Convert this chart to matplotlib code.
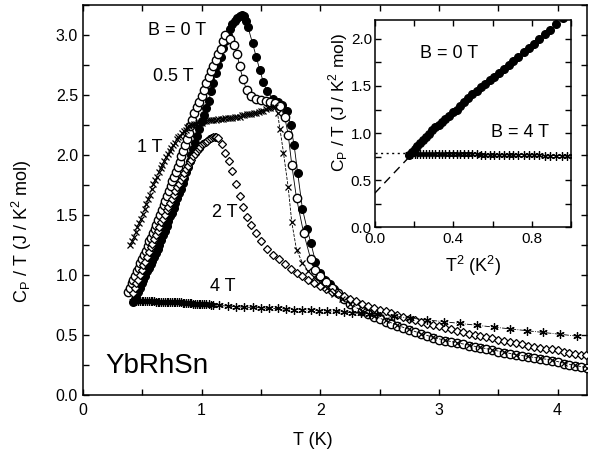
import numpy as np
import matplotlib
matplotlib.use("Agg")
import matplotlib.pyplot as plt
from matplotlib.ticker import MultipleLocator

plt.rcParams['font.family'] = ['Liberation Sans', 'DejaVu Sans']
plt.rcParams['mathtext.fontset'] = 'custom'
plt.rcParams['mathtext.rm'] = 'Liberation Sans'

# B = 0 T (filled circles)
t_0 = [0.420, 0.435, 0.450, 0.465, 0.480, 0.495, 0.510, 0.525, 0.540, 0.555, 0.570, 0.585,
       0.600, 0.615, 0.630, 0.645, 0.660, 0.675, 0.690, 0.705, 0.720, 0.735, 0.750, 0.765,
       0.780, 0.795, 0.810, 0.825, 0.840, 0.855, 0.870, 0.885, 0.900, 0.915, 0.930, 0.945,
       0.960, 0.980, 1.000, 1.020, 1.040, 1.060, 1.080, 1.100, 1.120, 1.140, 1.160, 1.180,
       1.200, 1.220, 1.240, 1.260, 1.280, 1.300, 1.320, 1.340, 1.360, 1.375,
       1.39, 1.43, 1.46, 1.49, 1.52, 1.55, 1.60, 1.64, 1.68, 1.72, 1.75, 1.78,
       1.81, 1.85, 1.89, 1.92, 1.96, 2.00, 2.04, 2.08, 2.12, 2.2, 2.3, 2.4, 2.5, 2.6, 2.7, 2.8,
       2.9, 3.0, 3.2, 3.4, 3.6, 3.8, 4.0, 4.2]
c_0 = [0.77, 0.80, 0.83, 0.86, 0.89, 0.93, 0.96, 0.99, 1.03, 1.06, 1.09, 1.12,
       1.15, 1.18, 1.22, 1.25, 1.29, 1.33, 1.37, 1.41, 1.45, 1.49, 1.52, 1.56,
       1.60, 1.64, 1.68, 1.72, 1.77, 1.81, 1.86, 1.90, 1.95, 2.00, 2.05, 2.10,
       2.16, 2.22, 2.28, 2.33, 2.39, 2.45, 2.53, 2.60, 2.68, 2.75, 2.82, 2.89,
       2.95, 3.00, 3.05, 3.09, 3.12, 3.14, 3.16, 3.17, 3.16, 3.12,
       3.07, 2.93, 2.82, 2.71, 2.61, 2.53, 2.47, 2.44, 2.42, 2.37, 2.25, 2.08,
       1.85, 1.55, 1.38, 1.27, 1.11, 1.02, 0.96, 0.92, 0.88, 0.81, 0.73, 0.68, 0.64, 0.60, 0.56, 0.52,
       0.49, 0.46, 0.42, 0.38, 0.34, 0.31, 0.27, 0.23]

# B = 0.5 T (open circles)
t_05 = [0.380, 0.395, 0.410, 0.425, 0.440, 0.455, 0.470, 0.485, 0.500, 0.515, 0.530, 0.545,
        0.560, 0.575, 0.590, 0.605, 0.620, 0.635, 0.650, 0.665, 0.680, 0.695, 0.710, 0.725,
        0.740, 0.755, 0.770, 0.785, 0.800, 0.815, 0.830, 0.845, 0.860, 0.875, 0.890, 0.905,
        0.920, 0.94, 0.96, 0.98, 1.00, 1.02, 1.04, 1.06, 1.08, 1.10, 1.12, 1.14, 1.16, 1.18, 1.20,
        1.24, 1.27, 1.30, 1.32, 1.35, 1.38, 1.42, 1.46, 1.50, 1.54, 1.58, 1.62, 1.66, 1.70, 1.73, 1.76,
        1.80, 1.86, 1.92, 1.96, 2.00, 2.05, 2.10, 2.15, 2.20, 2.25, 2.30, 2.35, 2.40, 2.45, 2.50,
        2.55, 2.60, 2.65, 2.70, 2.75, 2.80, 2.85, 2.90, 2.95, 3.00, 3.05, 3.10, 3.15, 3.20, 3.25,
        3.30, 3.35, 3.40, 3.45, 3.50, 3.55, 3.60, 3.65, 3.70, 3.75, 3.80, 3.85, 3.90, 3.95, 4.00,
        4.05, 4.10, 4.15, 4.20, 4.25]
c_05 = [0.86, 0.89, 0.93, 0.96, 0.99, 1.03, 1.06, 1.10, 1.13, 1.17, 1.20, 1.24,
        1.28, 1.31, 1.35, 1.38, 1.42, 1.46, 1.50, 1.54, 1.58, 1.62, 1.66, 1.70,
        1.74, 1.78, 1.82, 1.86, 1.90, 1.94, 1.99, 2.03, 2.08, 2.13, 2.18, 2.24,
        2.29, 2.35, 2.40, 2.44, 2.49, 2.54, 2.60, 2.65, 2.70, 2.74, 2.79, 2.84, 2.88, 2.95, 3.00,
        2.97, 2.92, 2.84, 2.74, 2.63, 2.54, 2.49, 2.47, 2.46, 2.45, 2.44, 2.43, 2.41, 2.32, 2.17, 1.92,
        1.64, 1.35, 1.13, 1.04, 0.99, 0.94, 0.89, 0.85, 0.80, 0.76, 0.72, 0.695, 0.67, 0.65, 0.63,
        0.61, 0.59, 0.575, 0.56, 0.54, 0.52, 0.505, 0.49, 0.475, 0.46, 0.45, 0.44, 0.43, 0.42, 0.41,
        0.40, 0.39, 0.38, 0.37, 0.36, 0.35, 0.34, 0.33, 0.32, 0.315, 0.31, 0.30, 0.29, 0.28, 0.27,
        0.26, 0.25, 0.24, 0.23, 0.22]

# B = 1 T (crosses)
t_1 = [0.400, 0.415, 0.430, 0.445, 0.460, 0.475, 0.490, 0.505, 0.520, 0.535, 0.550, 0.565,
       0.580, 0.595, 0.610, 0.625, 0.640, 0.655, 0.670, 0.685, 0.700, 0.715, 0.730, 0.745,
       0.760, 0.775, 0.790, 0.805, 0.820, 0.835, 0.850, 0.865, 0.880, 0.895, 0.910, 0.925,
       0.940, 0.955, 0.970, 0.985, 1.000,
       1.02, 1.04, 1.06, 1.08, 1.10, 1.12, 1.14, 1.16, 1.18, 1.20, 1.22, 1.24, 1.26, 1.28, 1.30,
       1.32, 1.34, 1.36, 1.38, 1.40, 1.42, 1.44, 1.46, 1.48, 1.50, 1.52, 1.54, 1.56, 1.58, 1.60,
       1.62, 1.64, 1.66, 1.69, 1.73, 1.76, 1.80, 1.85, 1.90, 1.95,
       2.00, 2.06, 2.12, 2.18, 2.25, 2.35, 2.45, 2.55, 2.65, 2.75, 2.85, 2.95, 3.05, 3.15, 3.25,
       3.35, 3.45, 3.55, 3.65, 3.75, 3.85, 3.95, 4.05, 4.15, 4.25]
c_1 = [1.25, 1.28, 1.32, 1.36, 1.40, 1.43, 1.47, 1.51, 1.55, 1.59, 1.63, 1.67,
       1.72, 1.76, 1.79, 1.82, 1.86, 1.89, 1.92, 1.95, 1.98, 2.01, 2.03, 2.06,
       2.08, 2.10, 2.13, 2.15, 2.16, 2.18, 2.20, 2.21, 2.23, 2.24, 2.25, 2.25,
       2.26, 2.26, 2.27, 2.27, 2.27,
       2.28, 2.28, 2.29, 2.29, 2.29, 2.29, 2.30, 2.30, 2.30, 2.31, 2.31, 2.31, 2.31, 2.32, 2.32,
       2.32, 2.33, 2.33, 2.34, 2.34, 2.34, 2.35, 2.35, 2.36, 2.37, 2.37, 2.38, 2.39, 2.39, 2.40,
       2.40, 2.35, 2.22, 2.02, 1.73, 1.44, 1.21, 1.10, 1.03, 0.98,
       0.94, 0.89, 0.84, 0.80, 0.76, 0.70, 0.66, 0.62, 0.58, 0.545, 0.51, 0.48, 0.455, 0.435, 0.415,
       0.395, 0.375, 0.355, 0.335, 0.32, 0.305, 0.29, 0.265, 0.245, 0.225]

# B = 2 T (open diamonds)
t_2 = [0.420, 0.435, 0.450, 0.465, 0.480, 0.495, 0.510, 0.525, 0.540, 0.555, 0.570, 0.585,
       0.600, 0.615, 0.630, 0.645, 0.660, 0.675, 0.690, 0.705, 0.720, 0.735, 0.750, 0.765,
       0.780, 0.795, 0.810, 0.825, 0.840, 0.855, 0.870, 0.885, 0.900, 0.915, 0.930, 0.945,
       0.960, 0.975, 0.990, 1.005, 1.020, 1.035, 1.050, 1.065, 1.080, 1.095, 1.110, 1.125,
       1.14, 1.17, 1.20, 1.23, 1.26, 1.29,
       1.32, 1.35, 1.38, 1.42, 1.46, 1.50, 1.55, 1.60, 1.65, 1.70, 1.75, 1.80, 1.85, 1.90, 1.95,
       2.00, 2.05, 2.10, 2.15, 2.20, 2.25, 2.30, 2.35, 2.40, 2.45, 2.50, 2.55, 2.60, 2.65, 2.70,
       2.75, 2.80, 2.85, 2.90, 2.95, 3.00, 3.05, 3.10, 3.15, 3.20, 3.25, 3.30, 3.35, 3.40, 3.45,
       3.50, 3.55, 3.60, 3.65, 3.70, 3.75, 3.80, 3.85, 3.90, 3.95, 4.00, 4.05, 4.10, 4.15, 4.20,
       4.24]
c_2 = [0.85, 0.89, 0.93, 0.96, 1.00, 1.04, 1.08, 1.11, 1.15, 1.19, 1.23, 1.26,
       1.30, 1.33, 1.37, 1.40, 1.44, 1.47, 1.50, 1.54, 1.57, 1.60, 1.63, 1.67,
       1.70, 1.73, 1.76, 1.79, 1.82, 1.85, 1.88, 1.91, 1.94, 1.96, 1.99, 2.01,
       2.03, 2.05, 2.07, 2.09, 2.10, 2.11, 2.12, 2.13, 2.14, 2.15, 2.15, 2.15,
       2.14, 2.09, 2.02, 1.95, 1.87, 1.76,
       1.66, 1.57, 1.48, 1.42, 1.35, 1.28, 1.22, 1.17, 1.13, 1.09, 1.05, 1.02, 0.99, 0.96, 0.93,
       0.91, 0.88, 0.86, 0.84, 0.82, 0.80, 0.78, 0.76, 0.74, 0.725, 0.71, 0.695, 0.68, 0.665, 0.65,
       0.635, 0.62, 0.605, 0.59, 0.58, 0.57, 0.56, 0.55, 0.535, 0.52, 0.51, 0.50, 0.49, 0.48, 0.47,
       0.46, 0.45, 0.44, 0.43, 0.42, 0.41, 0.40, 0.39, 0.385, 0.38, 0.37, 0.36, 0.35, 0.34, 0.335,
       0.33]

# B = 4 T (asterisks)
t_4 = [0.420, 0.435, 0.450, 0.465, 0.480, 0.495, 0.510, 0.525, 0.540, 0.555, 0.570, 0.585,
       0.600, 0.615, 0.630, 0.645, 0.660, 0.675, 0.690, 0.705, 0.720, 0.735, 0.750, 0.765,
       0.780, 0.795, 0.810, 0.825, 0.840, 0.855, 0.870, 0.885, 0.900, 0.915, 0.930, 0.945,
       0.960, 0.975, 0.990, 1.005, 1.020, 1.040, 1.060, 1.080, 1.100,
       1.15, 1.22, 1.29, 1.36, 1.43, 1.50, 1.57, 1.64,
       1.71, 1.78, 1.85, 1.92, 1.99, 2.06, 2.13, 2.20, 2.27, 2.34, 2.41, 2.48, 2.62, 2.76, 2.90,
       3.04, 3.18, 3.32, 3.46, 3.60, 3.74, 3.88, 4.02, 4.16]
c_4 = [0.78, 0.78, 0.78, 0.78, 0.78, 0.78, 0.78, 0.78, 0.78, 0.78, 0.78, 0.78,
       0.78, 0.775, 0.775, 0.775, 0.775, 0.775, 0.775, 0.775, 0.775, 0.77, 0.77, 0.77,
       0.77, 0.77, 0.77, 0.77, 0.765, 0.765, 0.765, 0.765, 0.765, 0.765, 0.76, 0.76,
       0.76, 0.76, 0.76, 0.76, 0.755, 0.755, 0.755, 0.75, 0.75,
       0.745, 0.74, 0.735, 0.73, 0.73, 0.725, 0.72, 0.72,
       0.715, 0.71, 0.71, 0.705, 0.70, 0.70, 0.695, 0.69, 0.685, 0.68, 0.675, 0.67, 0.655, 0.64, 0.625,
       0.61, 0.595, 0.58, 0.565, 0.55, 0.535, 0.52, 0.505, 0.49]

# inset extrapolations (T^2 vs C/T)
fit0_x = [0.0, 0.20]
fit0_y = [0.36, 0.80]
fit4_x = [0.0, 0.17]
fit4_y = [0.79, 0.79]

fig = plt.figure(figsize=(5.92, 4.57), dpi=100)
ax = fig.add_axes([0.140, 0.136, 0.852, 0.853])

lw = 0.6
ax.plot(t_0, c_0, '-', color='black', lw=lw, marker='o', ms=5.5, mfc='black', mec='black', zorder=2)
ax.plot(t_05, c_05, '-', color='black', lw=lw, marker='o', ms=6, mfc='white', mec='black', mew=1.0, zorder=3)
ax.plot(t_2, c_2, ls='none', marker='D', ms=4.2, mfc='white', mec='black', mew=0.9, zorder=3)
ax.plot(t_1, c_1, '--', color='black', lw=lw, marker='x', ms=5, mew=0.9, zorder=4)
ax.plot(t_4, c_4, '-.', color='black', lw=lw, marker=(6, 2, 0), ms=6, mew=0.9, zorder=4)

ax.set_xlim(0, 4.25)
ax.set_ylim(0, 3.25)
ax.xaxis.set_major_locator(MultipleLocator(1))
ax.xaxis.set_minor_locator(MultipleLocator(0.5))
ax.yaxis.set_major_locator(MultipleLocator(0.5))
ax.yaxis.set_minor_locator(MultipleLocator(0.25))
ax.tick_params(which='both', direction='in', top=True, right=True, length=4, width=1, labelsize=11.5)
ax.tick_params(axis='x', pad=6)
ax.set_yticklabels([f'{v:.1f}' for v in ax.get_yticks()])
for s in ax.spines.values():
    s.set_linewidth(1.1)

ax.set_xlabel('T (K)', fontsize=13)
ax.xaxis.set_label_coords(0.456, -0.095)
ax.set_ylabel(r'C$_{\mathregular{P}}$ / T (J / K$^{\mathregular{2}}$ mol)', fontsize=13)
ax.yaxis.set_label_coords(-0.097, 0.42)

ax.text(0.55, 3.04, 'B = 0 T', fontsize=13, va='center')
ax.text(0.59, 2.65, '0.5 T', fontsize=13, va='center')
ax.text(0.46, 2.06, '1 T', fontsize=13, va='center')
ax.text(1.09, 1.52, '2 T', fontsize=13, va='center')
ax.text(1.07, 0.90, '4 T', fontsize=13, va='center')
ax.text(0.19, 0.24, 'YbRhSn', fontsize=20, va='center')

# inset: C/T vs T^2
ins = fig.add_axes([0.633, 0.503, 0.332, 0.453])
t0_sq = np.square([t for t in t_0 if t <= 1.0])
c0_in = [c for t, c in zip(t_0, c_0) if t <= 1.0]
t4_sq = np.square([t for t in t_4 if t <= 1.02])
c4_in = [c for t, c in zip(t_4, c_4) if t <= 1.02]
ins.plot(fit0_x, fit0_y, color='black', lw=1.0, dashes=(6, 4))
ins.plot(fit4_x, fit4_y, color='black', lw=1.0, dashes=(1.5, 2.5))
ins.plot(t4_sq, c4_in, ls='none', marker=(6, 2, 0), ms=6, mew=0.9, color='black')
ins.plot(t0_sq, c0_in, ls='none', marker='o', ms=5.5, color='black')
ins.set_xlim(0, 1.0)
ins.set_ylim(0, 2.2)
ins.xaxis.set_major_locator(MultipleLocator(0.4))
ins.xaxis.set_minor_locator(MultipleLocator(0.2))
ins.yaxis.set_major_locator(MultipleLocator(0.5))
ins.yaxis.set_minor_locator(MultipleLocator(0.25))
ins.tick_params(which='both', direction='in', top=True, right=True, length=4, width=1, labelsize=11)
ins.tick_params(axis='y', pad=2)
ins.set_xticklabels([f'{v:.1f}' for v in ins.get_xticks()])
ins.set_yticklabels([f'{v:.1f}' for v in ins.get_yticks()])
for s in ins.spines.values():
    s.set_linewidth(1.1)
ins.set_xlabel(r'T$^{\mathregular{2}}$ (K$^{\mathregular{2}}$)', fontsize=13, labelpad=6)
ins.set_ylabel(r'C$_{\mathregular{P}}$ / T (J / K$^{\mathregular{2}}$ mol)', fontsize=12.5)
ins.yaxis.set_label_coords(-0.125, 0.6)
ins.text(0.23, 1.84, 'B = 0 T', fontsize=13, va='center')
ins.text(0.59, 1.01, 'B = 4 T', fontsize=13, va='center')

fig.savefig('out.png', dpi=100)
